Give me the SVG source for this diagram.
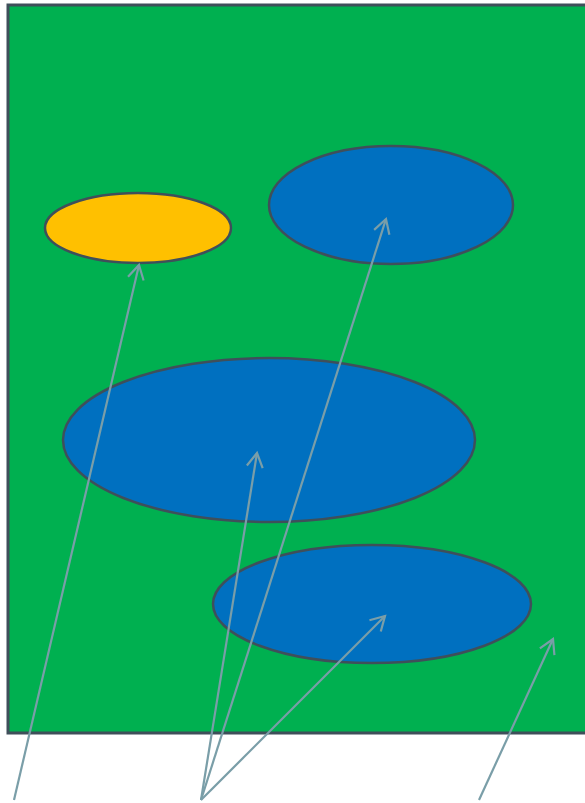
<svg xmlns="http://www.w3.org/2000/svg" width="585" height="803" viewBox="0 0 585 803">
<style>
.ell{stroke:#3f4f5a;stroke-width:2.5}
.con{stroke:#7a9ea8;stroke-width:2.2;fill:none;marker-end:url(#ah)}
</style>
<defs>
<marker id="ah" markerUnits="userSpaceOnUse" markerWidth="20" markerHeight="20" viewBox="-16 -10 20 20" refX="0" refY="0" orient="auto">
<path d="M-14,-8 L0,0 L-14,8" fill="none" stroke="#7a9ea8" stroke-width="2.2"/>
</marker>
</defs>
<rect width="585" height="803" fill="#ffffff"/>
<g id="frame"><rect x="8" y="5" width="600" height="728" fill="#00b050" stroke="#3f4f5a" stroke-width="3"/></g>
<g id="n1"><ellipse cx="138" cy="228" rx="93" ry="35" fill="#ffc000" class="ell"/></g>
<g id="n2"><ellipse cx="391" cy="205" rx="122" ry="59" fill="#0070c0" class="ell"/></g>
<g id="n3"><ellipse cx="269" cy="440" rx="206" ry="82" fill="#0070c0" class="ell"/></g>
<g id="n4"><ellipse cx="372" cy="604" rx="159" ry="59" fill="#0070c0" class="ell"/></g>
<g id="connectors">
<line x1="14" y1="800" x2="139" y2="265" class="con"/>
<line x1="201" y1="800" x2="386" y2="219" class="con"/>
<line x1="201" y1="800" x2="257" y2="453" class="con"/>
<line x1="201" y1="800" x2="385" y2="616" class="con"/>
<line x1="479" y1="800" x2="553" y2="639" class="con"/>
</g>
</svg>
